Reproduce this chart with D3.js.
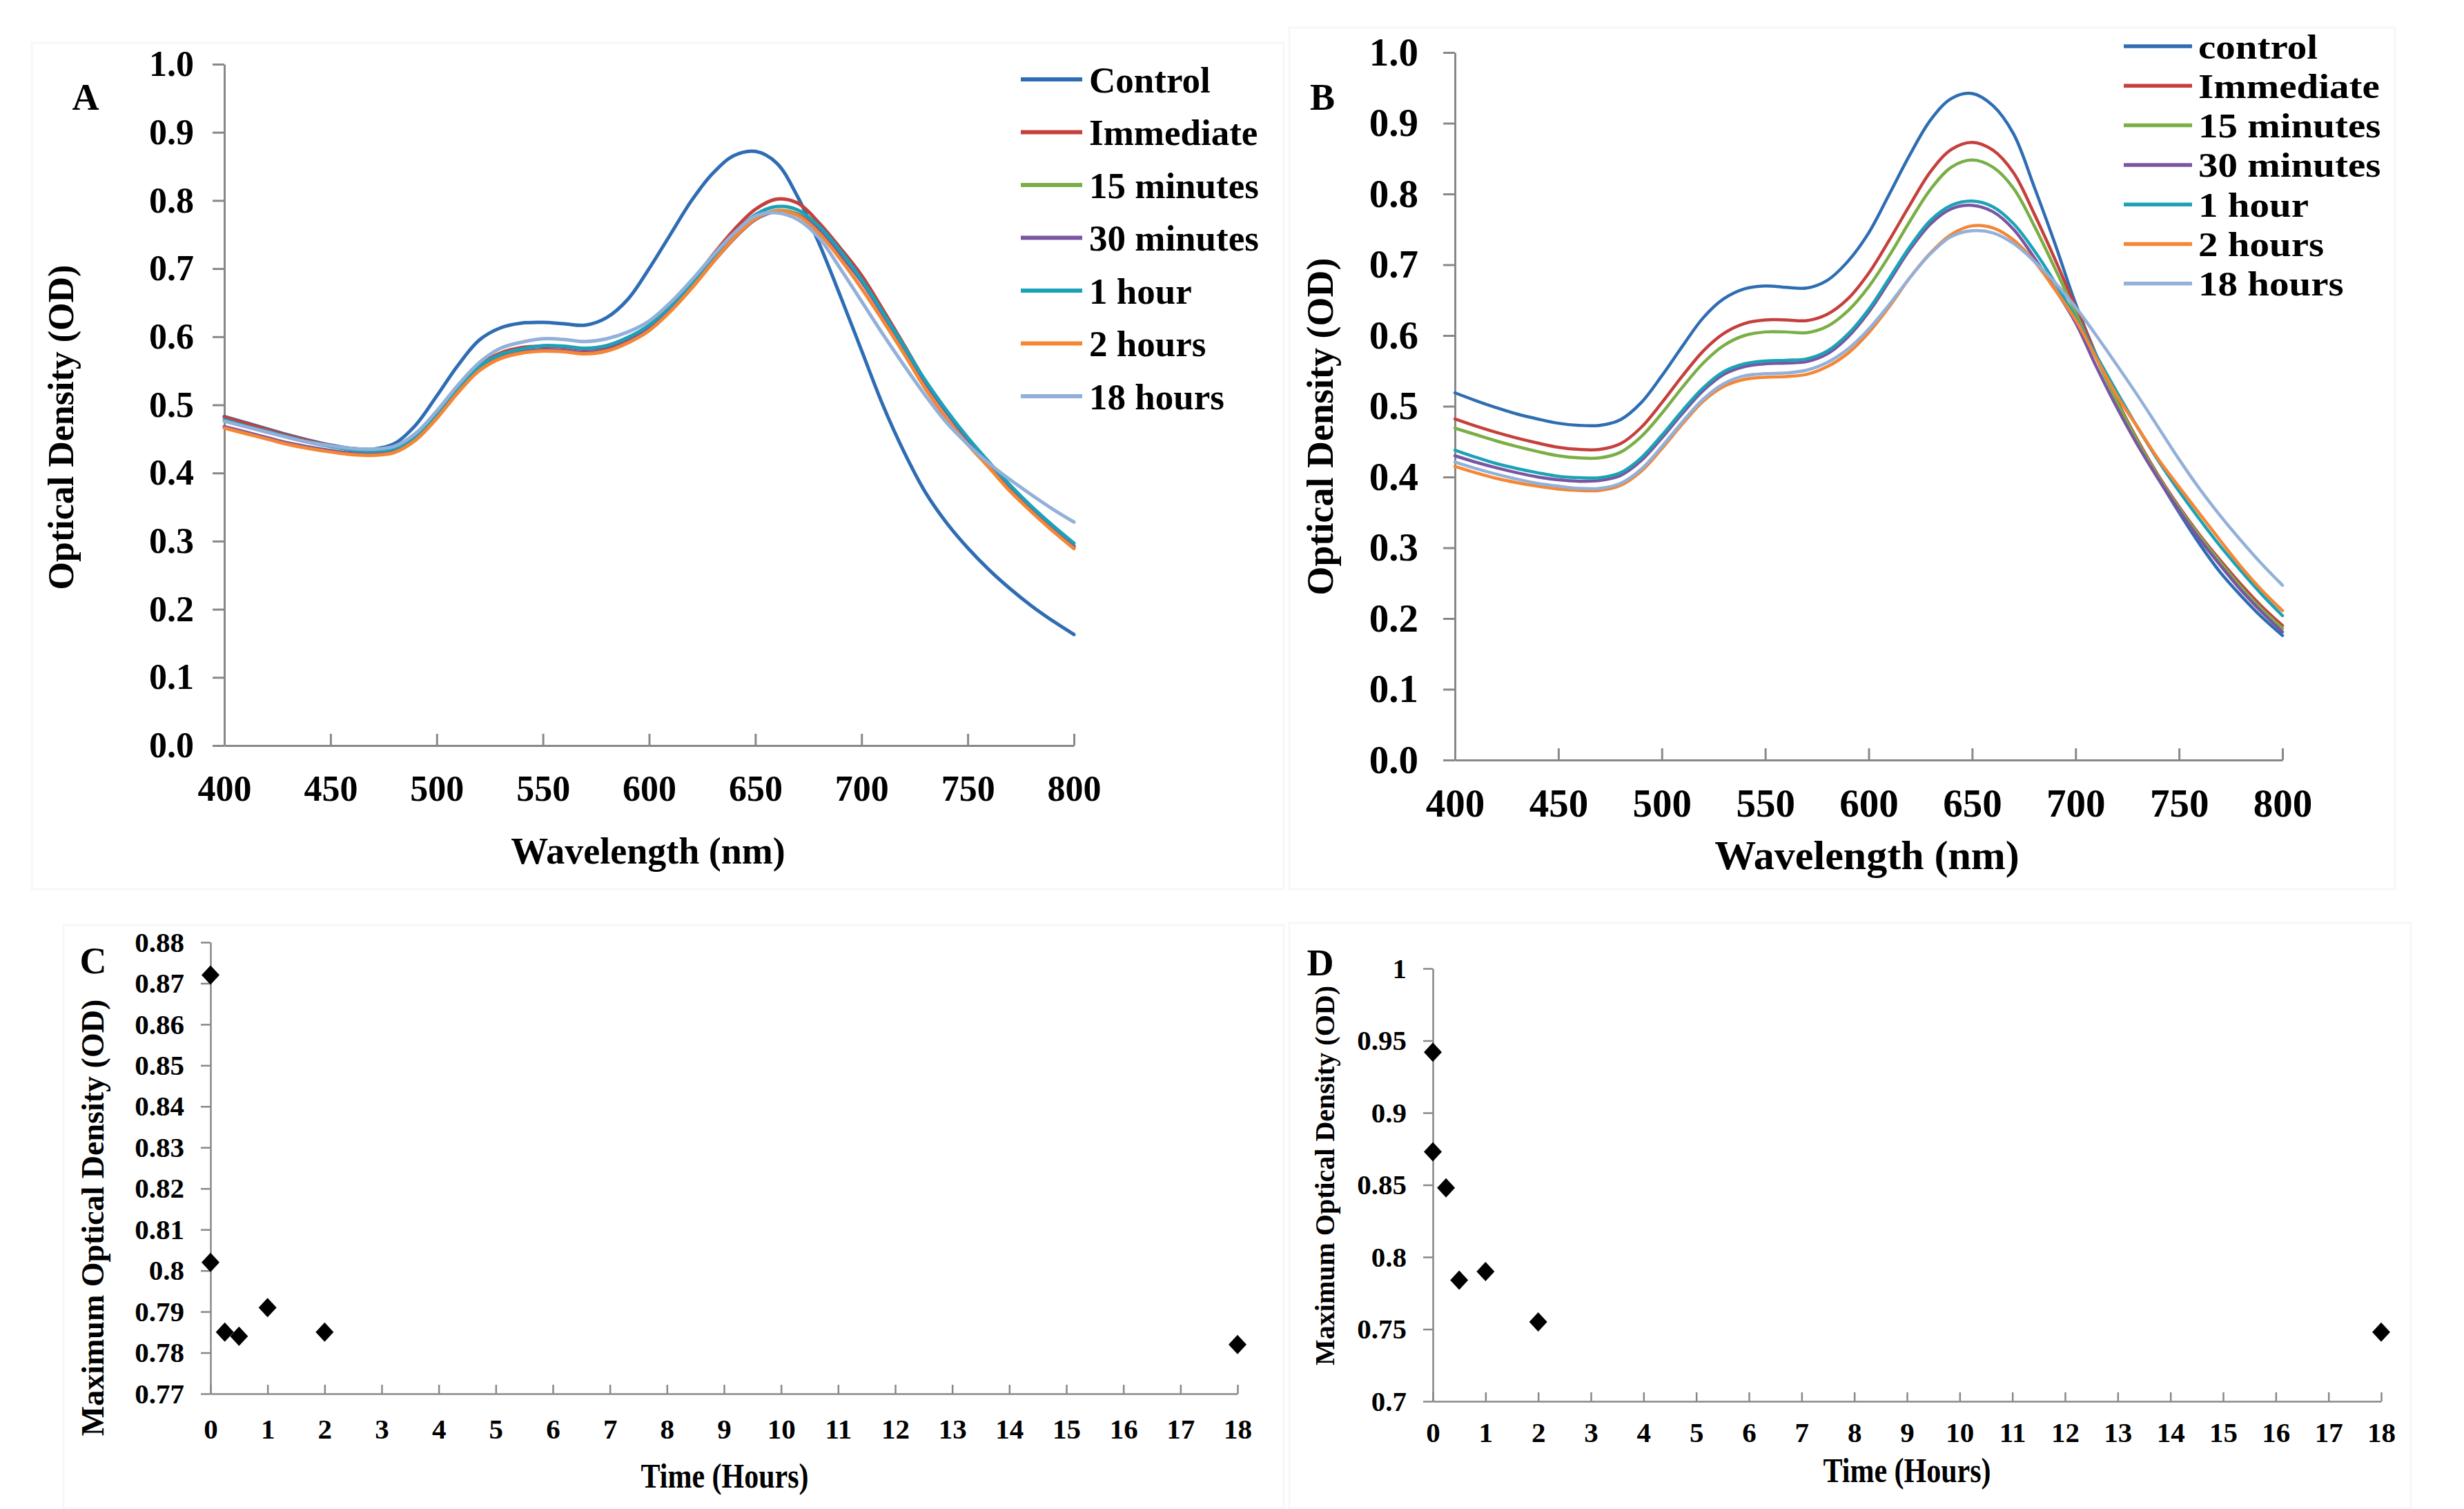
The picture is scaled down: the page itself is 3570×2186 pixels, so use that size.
<!DOCTYPE html>
<html><head><meta charset="utf-8">
<script src="https://cdn.jsdelivr.net/npm/d3@7"></script>
<style>
html,body{margin:0;padding:0;background:#fff;}
svg{display:block;}
text{font-family:"Liberation Serif","Times New Roman",serif;font-weight:bold;fill:#000;}
</style></head><body>
<svg id="chart" width="3570" height="2186"></svg>
<script>
// ---------- DATA ----------
const wavelengths = [400,410,420,430,440,450,460,470,480,490,500,510,520,530,540,550,560,570,580,590,600,610,620,630,640,650,660,670,680,690,700,710,720,730,740,750,760,770,780,790,800];
const seriesNamesA = ["Control","Immediate","15 minutes","30 minutes","1 hour","2 hours","18 hours"];
const seriesNamesB = ["control","Immediate","15 minutes","30 minutes","1 hour","2 hours","18 hours"];

const A_control   = [.483,.474,.465,.456,.448,.441,.436,.435,.443,.470,.513,.558,.595,.613,.620,.621,.619,.617,.628,.655,.700,.750,.800,.840,.866,.872,.855,.805,.737,.660,.580,.500,.431,.372,.327,.290,.258,.230,.205,.183,.163];
const A_immediate = [.482,.473,.464,.455,.447,.440,.434,.432,.436,.455,.488,.526,.558,.576,.584,.586,.585,.582,.585,.597,.615,.645,.680,.720,.757,.787,.802,.796,.767,.730,.690,.640,.588,.535,.490,.448,.412,.378,.347,.318,.290];
const A_15min     = [.467,.459,.451,.443,.437,.432,.428,.427,.431,.449,.481,.519,.551,.569,.577,.580,.579,.576,.580,.592,.610,.638,.672,.710,.745,.773,.785,.780,.757,.722,.682,.634,.584,.533,.489,.448,.412,.377,.346,.318,.292];
const A_30min     = [.468,.460,.452,.444,.438,.433,.429,.428,.432,.450,.482,.520,.552,.570,.578,.581,.580,.577,.581,.593,.611,.639,.672,.709,.744,.772,.784,.779,.756,.721,.681,.633,.584,.533,.489,.449,.413,.378,.347,.319,.293];
const A_1h        = [.478,.469,.461,.453,.445,.439,.434,.432,.436,.454,.486,.524,.556,.574,.582,.587,.586,.583,.587,.599,.617,.645,.678,.716,.751,.779,.791,.786,.762,.726,.684,.636,.586,.536,.492,.452,.416,.382,.351,.323,.297];
const A_2h        = [.466,.458,.450,.442,.436,.431,.427,.426,.430,.448,.480,.518,.550,.568,.576,.579,.578,.575,.579,.591,.609,.637,.671,.709,.745,.773,.785,.778,.752,.714,.671,.624,.575,.524,.480,.442,.408,.373,.343,.315,.289];
const A_18h       = [.476,.468,.460,.452,.445,.440,.436,.435,.439,.458,.491,.529,.562,.583,.592,.597,.596,.593,.597,.607,.623,.650,.683,.719,.752,.777,.782,.772,.745,.700,.652,.604,.558,.514,.474,.442,.414,.390,.368,.347,.328];

const B_control   = [.519,.508,.498,.489,.482,.476,.473,.473,.481,.505,.543,.585,.625,.652,.666,.670,.668,.667,.678,.705,.745,.800,.856,.905,.935,.942,.925,.885,.810,.730,.645,.572,.508,.450,.398,.350,.305,.265,.232,.202,.176];
const B_immediate = [.482,.472,.463,.455,.448,.442,.439,.439,.447,.470,.505,.543,.578,.603,.617,.622,.622,.621,.630,.652,.688,.735,.785,.832,.863,.873,.862,.830,.772,.708,.640,.572,.508,.452,.402,.358,.318,.282,.248,.217,.190];
const B_15min     = [.469,.460,.451,.443,.436,.430,.427,.427,.435,.457,.490,.527,.561,.586,.600,.605,.605,.604,.613,.635,.669,.713,.762,.807,.838,.848,.838,.808,.755,.695,.632,.568,.506,.450,.400,.356,.316,.279,.244,.213,.186];
const B_30min     = [.430,.421,.413,.406,.400,.396,.394,.395,.402,.423,.455,.490,.522,.545,.556,.560,.561,.563,.574,.598,.633,.677,.722,.758,.779,.784,.775,.750,.710,.666,.618,.556,.498,.445,.397,.353,.312,.275,.240,.209,.181];
const B_1h        = [.438,.428,.419,.412,.406,.401,.399,.399,.406,.427,.459,.494,.526,.549,.560,.564,.565,.567,.578,.602,.637,.681,.726,.763,.784,.790,.782,.758,.720,.675,.625,.572,.520,.470,.423,.380,.340,.302,.267,.234,.204];
const B_2h        = [.415,.406,.398,.392,.387,.383,.381,.381,.388,.408,.440,.475,.507,.528,.538,.541,.542,.545,.556,.575,.604,.641,.682,.717,.743,.755,.752,.735,.705,.665,.622,.568,.515,.470,.425,.386,.348,.310,.273,.240,.211];
const B_18h       = [.421,.412,.404,.397,.391,.387,.384,.384,.391,.411,.443,.478,.510,.532,.543,.546,.547,.551,.562,.581,.609,.644,.682,.716,.740,.748,.745,.730,.705,.675,.640,.600,.558,.515,.470,.425,.383,.345,.310,.277,.247];

const C_time = [0, 0, 0.25, 0.5, 1, 2, 18];
const C_maxOD = [0.872, 0.802, 0.785, 0.784, 0.791, 0.785, 0.782];
const D_time = [0, 0, 0.25, 0.5, 1, 2, 18];
const D_maxOD = [0.942, 0.873, 0.848, 0.784, 0.790, 0.755, 0.748];

const wlTicks = [400,450,500,550,600,650,700,750,800];
const odTicks = [0,0.1,0.2,0.3,0.4,0.5,0.6,0.7,0.8,0.9,1.0];
const hourTicks = [0,1,2,3,4,5,6,7,8,9,10,11,12,13,14,15,16,17,18];
const cTicks = [0.77,0.78,0.79,0.80,0.81,0.82,0.83,0.84,0.85,0.86,0.87,0.88];
const dTicks = [0.70,0.75,0.80,0.85,0.90,0.95,1.00];

const colors = ['#2f6db3','#c5403d','#7aae46','#7a56a2','#1ca2b6','#f58634','#92b0d9'];

// ---------- DRAWING ----------
const svg = d3.select('#chart');
svg.append('rect').attr('width',3570).attr('height',2186).attr('fill','#fff');

// faint panel frames
[[46,62,1814,1226],[1868,40,1602,1248],[92,1340,1768,846],[1868,1337,1625,849]].forEach(f=>{
  svg.append('rect').attr('x',f[0]).attr('y',f[1]).attr('width',f[2]).attr('height',f[3])
    .attr('fill','none').attr('stroke','#f7f7f7').attr('stroke-width',3);
});

const axisColor = '#888888';
function styleAxis(g, fs, sw){
  g.attr('font-size', fs).attr('font-family', null);
  g.select('.domain').attr('stroke', axisColor).attr('stroke-width', sw);
  g.selectAll('.tick line').attr('stroke', axisColor).attr('stroke-width', sw);
  g.selectAll('.tick text').attr('fill', '#000');
}

function spectrum(p){
  const x = d3.scaleLinear().domain([400,800]).range([p.x0,p.x1]);
  const y = d3.scaleLinear().domain([0,1]).range([p.y0,p.y1]);
  const g = svg.append('g');
  const ya = g.append('g').attr('transform',`translate(${p.x0},0)`)
    .call(d3.axisLeft(y).tickValues(odTicks).tickFormat(d3.format('.1f')).tickSize(p.tick).tickSizeOuter(0).tickPadding(p.ypad));
  styleAxis(ya, p.fs, 3);
  const xa = g.append('g').attr('transform',`translate(0,${p.y0})`)
    .call(d3.axisBottom(x).tickValues(wlTicks).tickFormat(d3.format('d')).tickSize(-p.tick).tickSizeOuter(0).tickPadding(p.xpad));
  styleAxis(xa, p.fs, 3);

  const line = d3.line().x((d,i)=>x(wavelengths[i])).y(d=>y(d)).curve(d3.curveCatmullRom.alpha(0.5));
  p.series.forEach((s,i)=>{
    g.append('path').attr('d', line(s)).attr('fill','none').attr('stroke', colors[i])
      .attr('stroke-width', p.lw).attr('stroke-linejoin','round').attr('stroke-linecap','round');
  });

  // titles
  g.append('text').attr('x', p.xt[0]).attr('y', p.xt[1]).attr('text-anchor','middle')
    .attr('font-size', p.tfs).text('Wavelength (nm)');
  g.append('text').attr('transform',`translate(${p.yt[0]},${p.yt[1]}) rotate(-90)`).attr('text-anchor','middle')
    .attr('font-size', p.ytfs).text('Optical Density (OD)');
  g.append('text').attr('x', p.lab[0]).attr('y', p.lab[1]).attr('text-anchor','middle')
    .attr('font-size', 54).text(p.letter);

  // legend
  p.names.forEach((n,i)=>{
    const yy = p.leg.y + i*p.leg.dy;
    g.append('line').attr('x1', p.leg.x1).attr('x2', p.leg.x2).attr('y1', yy).attr('y2', yy)
      .attr('stroke', colors[i]).attr('stroke-width', p.lw+1);
    g.append('text').attr('transform',`translate(${p.leg.tx},${yy}) scale(${p.leg.sx},1)`).attr('dy','0.35em')
      .attr('font-size', p.leg.fs).text(n);
  });
}

spectrum({x0:325,x1:1556,y0:1080,y1:93,tick:17,ypad:27,xpad:43,fs:52,lw:5,
  series:[A_control,A_immediate,A_15min,A_30min,A_1h,A_2h,A_18h], names:seriesNamesA,
  xt:[939,1251], tfs:54, yt:[106,619], ytfs:52, lab:[124,159], letter:'A',
  leg:{x1:1479,x2:1568,tx:1578,y:115,dy:76.5,fs:53,sx:1}});

spectrum({x0:2108,x1:3307,y0:1101,y1:76,tick:17,ypad:36,xpad:42,fs:57,lw:4.5,
  series:[B_control,B_immediate,B_15min,B_30min,B_1h,B_2h,B_18h], names:seriesNamesB,
  xt:[2705,1259], tfs:60, yt:[1931,618], ytfs:54, lab:[1916,159], letter:'B',
  leg:{x1:3077,x2:3176,tx:3185,y:67,dy:57.3,fs:50,sx:1.14}});

function scatter(p){
  const x = d3.scaleLinear().domain([0,18]).range([p.x0,p.x1]);
  const y = d3.scaleLinear().domain(p.ydom).range([p.y0,p.y1]);
  const g = svg.append('g');
  const ya = g.append('g').attr('transform',`translate(${p.x0},0)`)
    .call(d3.axisLeft(y).tickValues(p.yticks).tickFormat(d=>String(+d.toFixed(2))).tickSize(14).tickSizeOuter(0).tickPadding(p.ypad));
  styleAxis(ya, p.fs, 2.5);
  const xa = g.append('g').attr('transform',`translate(0,${p.y0})`)
    .call(d3.axisBottom(x).tickValues(hourTicks).tickFormat(d3.format('d')).tickSize(-13).tickSizeOuter(0).tickPadding(p.xpad));
  styleAxis(xa, p.fs, 2.5);

  const w = 13, h = 14;
  p.t.forEach((t,i)=>{
    const cx = x(t), cy = y(p.v[i]);
    g.append('path').attr('d',`M${cx},${cy-h}L${cx+w},${cy}L${cx},${cy+h}L${cx-w},${cy}Z`).attr('fill','#000');
  });

  g.append('text').attr('transform',`translate(${p.xt[0]},${p.xt[1]}) scale(0.84,1)`).attr('text-anchor','middle')
    .attr('font-size', 50).text('Time (Hours)');
  g.append('text').attr('transform',`translate(${p.yt[0]},${p.yt[1]}) rotate(-90)`).attr('text-anchor','middle')
    .attr('font-size', p.ytfs).text('Maximum Optical Density (OD)');
  g.append('text').attr('x', p.lab[0]).attr('y', p.lab[1]).attr('text-anchor','middle')
    .attr('font-size', 54).text(p.letter);
}

scatter({x0:305,x1:1793,y0:2019,y1:1365,ydom:[0.77,0.88],yticks:cTicks,fs:41,ypad:24,xpad:36,
  t:C_time,v:C_maxOD,xt:[1050,2155],yt:[150,1764],ytfs:46,lab:[135,1410],letter:'C'});
scatter({x0:2076,x1:3450,y0:2030,y1:1403,ydom:[0.70,1.00],yticks:dTicks,fs:41,ypad:24,xpad:30,
  t:D_time,v:D_maxOD,xt:[2763,2147],yt:[1933,1703],ytfs:40,lab:[1913,1413],letter:'D'});
</script>
</body></html>
